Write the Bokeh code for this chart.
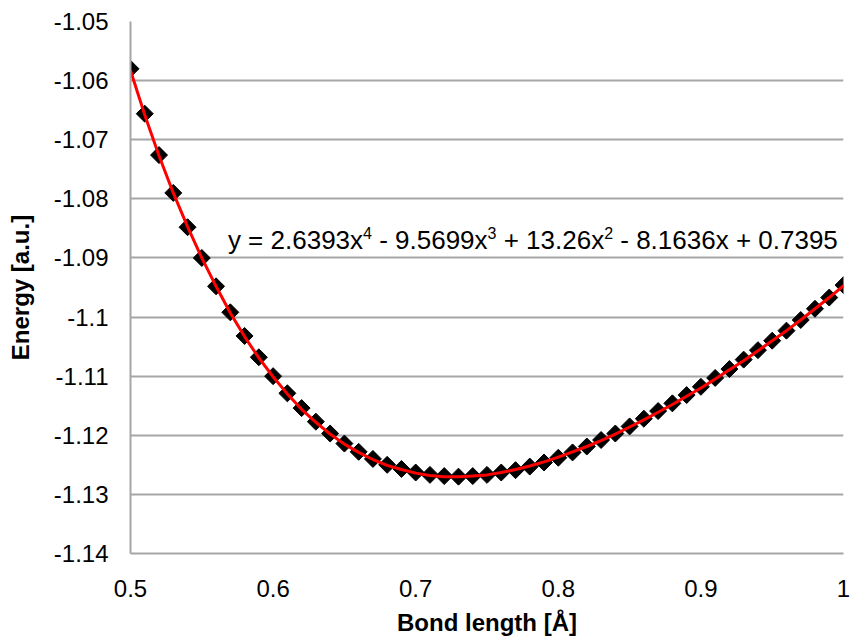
from bokeh.plotting import figure
from bokeh.models import Range1d, FixedTicker, Label
from bokeh.embed import file_html
from bokeh.resources import INLINE
import math

# ---- data ----
bond_length = [0.50, 0.51, 0.52, 0.53, 0.54, 0.55, 0.56, 0.57, 0.58, 0.59,
               0.60, 0.61, 0.62, 0.63, 0.64, 0.65, 0.66, 0.67, 0.68, 0.69,
               0.70, 0.71, 0.72, 0.73, 0.74, 0.75, 0.76, 0.77, 0.78, 0.79,
               0.80, 0.81, 0.82, 0.83, 0.84, 0.85, 0.86, 0.87, 0.88, 0.89,
               0.90, 0.91, 0.92, 0.93, 0.94, 0.95, 0.96, 0.97, 0.98, 0.99, 1.00]

energy = [-1.0580, -1.0656, -1.0726, -1.0790, -1.0848, -1.0900, -1.0948, -1.0992, -1.1032, -1.1068,
          -1.1100, -1.1129, -1.1154, -1.1177, -1.1197, -1.1214, -1.1228, -1.1240, -1.1250, -1.1257,
          -1.1263, -1.1267, -1.1269, -1.1270, -1.1269, -1.1267, -1.1263, -1.1259, -1.1253, -1.1246,
          -1.1238, -1.1229, -1.1219, -1.1208, -1.1197, -1.1185, -1.1172, -1.1159, -1.1146, -1.1132,
          -1.1118, -1.1103, -1.1088, -1.1072, -1.1056, -1.1040, -1.1023, -1.1005, -1.0986, -1.0967, -1.0946]

trendline = [-1.0583, -1.0658, -1.0727, -1.0790, -1.0847, -1.0900, -1.0948, -1.0993, -1.1033, -1.1069,
             -1.1101, -1.1130, -1.1156, -1.1178, -1.1198, -1.1215, -1.1229, -1.1241, -1.1251, -1.1258,
             -1.1264, -1.1268, -1.1270, -1.1270, -1.1269, -1.1267, -1.1263, -1.1258, -1.1252, -1.1245,
             -1.1237, -1.1228, -1.1219, -1.1209, -1.1198, -1.1186, -1.1174, -1.1161, -1.1148, -1.1134,
             -1.1120, -1.1105, -1.1089, -1.1074, -1.1057, -1.1040, -1.1023, -1.1005, -1.0986, -1.0967, -1.0947]

x_ticks = [0.5, 0.6, 0.7, 0.8, 0.9, 1.0]
x_tick_labels = ["0.5", "0.6", "0.7", "0.8", "0.9", "1"]
y_ticks = [-1.14, -1.13, -1.12, -1.11, -1.10, -1.09, -1.08, -1.07, -1.06, -1.05]
y_tick_labels = ["-1.14", "-1.13", "-1.12", "-1.11", "-1.1", "-1.09", "-1.08", "-1.07", "-1.06", "-1.05"]

# trendline equation, split into normal text and superscript exponents
eq_parts = ["y = 2.6393x", " - 9.5699x", " + 13.26x", " - 8.1636x + 0.7395"]
eq_exponents = ["4", "3", "2"]
x_title = "Bond length [\u00c5]"
y_title = "Energy [a.u.]"

FONT = "Liberation Sans"
GRID = "#a6a6a6"

p = figure(frame_width=713, frame_height=532, output_backend="svg", toolbar_location=None,
           x_range=Range1d(0.5, 1.0), y_range=Range1d(-1.14, -1.05),
           min_border_left=130, min_border_right=7, min_border_top=21, min_border_bottom=60)
p.outline_line_color = None
p.background_fill_color = "white"

p.xgrid.grid_line_color = None
p.ygrid.grid_line_color = GRID
p.ygrid.grid_line_width = 2
p.ygrid.ticker = FixedTicker(ticks=y_ticks)

for ax in (p.xaxis[0], p.yaxis[0]):
    ax.axis_line_color = GRID
    ax.axis_line_width = 2
    ax.major_tick_out = 0
    ax.major_tick_in = 0
    ax.minor_tick_out = 0
    ax.minor_tick_in = 0
    ax.major_label_text_font = FONT
    ax.major_label_text_font_size = "24px"
    ax.major_label_text_color = "black"
    ax.axis_label_text_font = FONT
    ax.axis_label_text_font_style = "bold"
    ax.axis_label_text_font_size = "24px"
    ax.axis_label_text_color = "black"

p.xaxis[0].ticker = FixedTicker(ticks=x_ticks)
p.xaxis[0].major_label_overrides = dict(zip(x_ticks, x_tick_labels))
p.xaxis[0].axis_label = x_title
p.xaxis[0].major_label_standoff = 26
p.xaxis[0].axis_label_standoff = 9

p.yaxis[0].ticker = FixedTicker(ticks=y_ticks)
p.yaxis[0].major_label_overrides = dict(zip(y_ticks, y_tick_labels))
p.yaxis[0].axis_label = y_title
p.yaxis[0].major_label_standoff = 22
p.yaxis[0].axis_label_standoff = 17

p.scatter(bond_length, energy, marker="square", size=12, angle=math.pi / 4,
          fill_color="black", line_color="black")
p.line(bond_length, trendline, line_color="#ff0000", line_width=3)

# equation label: main text and smaller raised exponents placed with Arial metrics
MAIN_PX = 26
SUP_PX = 16
W = {"0": .556, "1": .556, "2": .556, "3": .556, "4": .556, "5": .556, "6": .556,
     "7": .556, "8": .556, "9": .556, ".": .278, " ": .278, "=": .584, "+": .584,
     "-": .333, "x": .5, "y": .5}
EQ_X, EQ_Y = 0.5683, -1.0870
off = 0.0
for i, part in enumerate(eq_parts):
    stripped = part.lstrip(" ")
    off += (len(part) - len(stripped)) * W[" "] * MAIN_PX
    p.add_layout(Label(x=EQ_X, y=EQ_Y, x_offset=off, text=stripped, text_font=FONT,
                       text_font_size=f"{MAIN_PX}px", text_color="black",
                       text_baseline="alphabetic"))
    off += sum(W[c] for c in stripped) * MAIN_PX
    if i < len(eq_exponents):
        p.add_layout(Label(x=EQ_X, y=EQ_Y, x_offset=off, y_offset=7, text=eq_exponents[i],
                           text_font=FONT, text_font_size=f"{SUP_PX}px", text_color="black",
                           text_baseline="alphabetic"))
        off += sum(W[c] for c in eq_exponents[i]) * SUP_PX

open("out.html", "w").write(file_html(p, INLINE))
